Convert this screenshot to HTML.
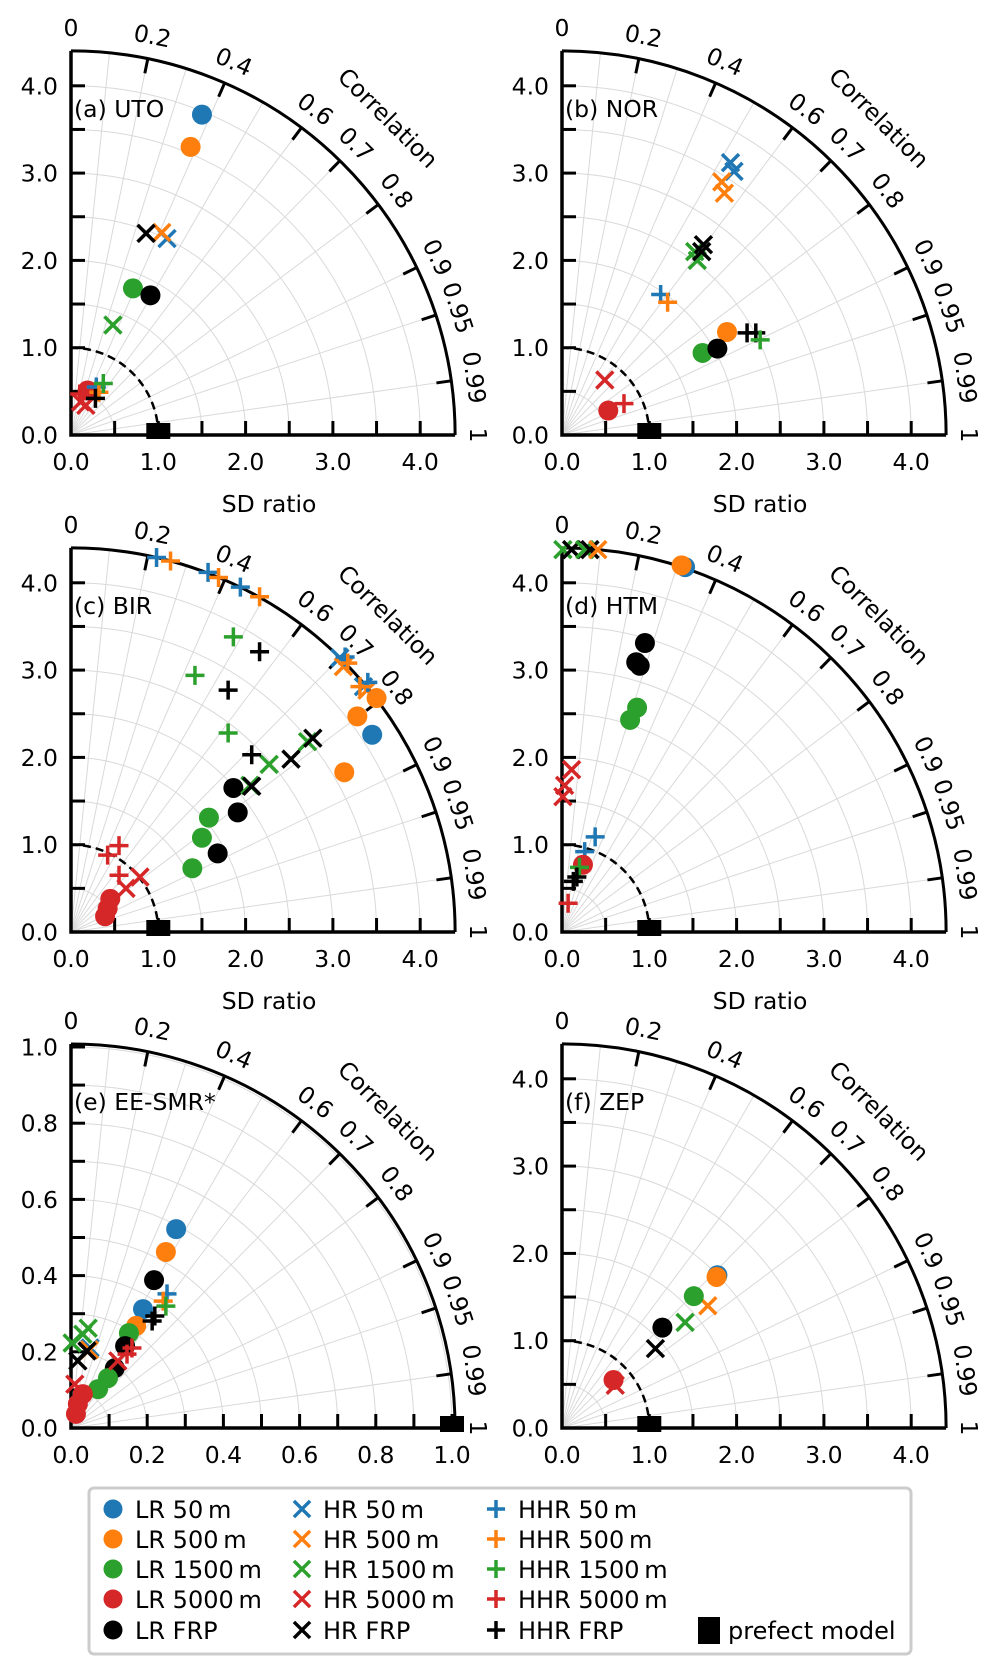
<!DOCTYPE html>
<html><head><meta charset="utf-8"><style>
html,body{margin:0;padding:0;background:#fff}
svg{display:block}
text{font-family:"DejaVu Sans","Liberation Sans",sans-serif;fill:#000}
</style></head><body>
<svg id="fig" xmlns="http://www.w3.org/2000/svg" width="997" height="1674" viewBox="0 0 997 1674"></svg>
<script>
// series: 0 LR50,1 LR500,2 LR1500,3 LR5000,4 LRFRP,5 HR50,6 HR500,7 HR1500,8 HR5000,9 HRFRP,10 HHR50,11 HHR500,12 HHR1500,13 HHR5000,14 HHRFRP
const seriesNames=["LR 50\u2009m","LR 500\u2009m","LR 1500\u2009m","LR 5000\u2009m","LR FRP","HR 50\u2009m","HR 500\u2009m","HR 1500\u2009m","HR 5000\u2009m","HR FRP","HHR 50\u2009m","HHR 500\u2009m","HHR 1500\u2009m","HHR 5000\u2009m","HHR FRP"];
const corrTicks=[0,0.2,0.4,0.6,0.7,0.8,0.9,0.95,0.99,1];
const corrGrid=[0.1,0.2,0.3,0.4,0.5,0.6,0.7,0.8,0.9,0.95,0.99];

const sA=[0,1,2,4,3,5,6,9,7,8,8,10,11,12,14,13];
const xA=[1.50,1.37,0.71,0.91,0.19,1.10,1.04,0.86,0.48,0.11,0.17,0.29,0.32,0.37,0.28,0.10];
const yA=[3.67,3.30,1.68,1.60,0.51,2.25,2.32,2.31,1.26,0.38,0.34,0.55,0.49,0.59,0.42,0.47];

const sB=[5,5,6,6,7,7,9,9,10,11,1,2,4,14,14,12,8,13,3];
const xB=[1.93,1.97,1.83,1.86,1.52,1.55,1.62,1.60,1.13,1.21,1.89,1.61,1.78,2.12,2.22,2.27,0.49,0.71,0.53];
const yB=[3.12,3.02,2.90,2.77,2.10,2.00,2.18,2.10,1.61,1.52,1.18,0.94,0.99,1.17,1.17,1.09,0.63,0.36,0.28];

const sC=[1,1,1,0,4,4,4,2,2,2,3,3,3,5,5,6,6,7,7,7,9,9,9,8,8,10,10,10,10,10,11,11,11,11,11,12,12,12,14,14,14,13,13,13];
const xC=[3.13,3.28,3.50,3.45,1.86,1.91,1.68,1.58,1.50,1.39,0.45,0.42,0.39,3.08,3.35,3.12,3.39,2.27,2.71,2.05,2.52,2.77,2.07,0.79,0.63,0.98,1.57,1.94,3.14,3.40,1.14,1.69,2.16,3.17,3.31,1.86,1.42,1.80,2.16,1.80,2.07,0.42,0.55,0.55];
const yC=[1.83,2.47,2.68,2.26,1.65,1.37,0.90,1.31,1.08,0.73,0.38,0.27,0.18,3.14,2.81,3.04,2.77,1.92,2.18,1.68,1.98,2.22,1.67,0.63,0.50,4.29,4.12,3.95,3.15,2.86,4.25,4.06,3.84,3.08,2.81,3.38,2.94,2.28,3.21,2.77,2.03,0.88,0.99,0.65];

const sD=[7,9,7,9,6,0,1,4,4,4,2,2,8,8,8,10,10,3,12,14,14,13];
const xD=[0.01,0.11,0.26,0.32,0.41,1.41,1.37,0.95,0.85,0.89,0.86,0.78,0.11,0.03,0.01,0.38,0.26,0.24,0.20,0.17,0.13,0.07];
const yD=[4.38,4.38,4.38,4.38,4.38,4.18,4.20,3.31,3.09,3.05,2.57,2.43,1.86,1.68,1.55,1.09,0.92,0.77,0.74,0.63,0.58,0.33];

const sE=[0,1,4,0,1,2,4,4,2,2,3,3,3,10,11,12,14,14,13,13,8,8,7,7,5,6,9,9,7];
const xE=[0.276,0.249,0.218,0.189,0.171,0.152,0.142,0.115,0.097,0.071,0.031,0.018,0.013,0.252,0.242,0.249,0.220,0.213,0.160,0.147,0.123,0.010,0.045,0.031,0.050,0.048,0.042,0.018,0.003];
const yE=[0.522,0.462,0.388,0.312,0.268,0.249,0.215,0.157,0.131,0.102,0.089,0.063,0.037,0.352,0.333,0.320,0.294,0.281,0.210,0.194,0.176,0.115,0.262,0.246,0.210,0.205,0.202,0.176,0.223];

const sF=[0,1,6,2,7,4,9,3,8];
const xF=[1.78,1.77,1.67,1.51,1.41,1.15,1.07,0.59,0.61];
const yF=[1.75,1.73,1.40,1.51,1.21,1.15,0.91,0.55,0.49];

const colors=["#1f77b4","#ff7f0e","#2ca02c","#d62728","#000000"];
const NS="http://www.w3.org/2000/svg";
const svg=document.getElementById('fig');
const FS=23.5;
function el(tag,attrs,parent){const e=document.createElementNS(NS,tag);for(const k in attrs)e.setAttribute(k,attrs[k]);(parent||svg).appendChild(e);return e;}

function marker(g,s,px,py,size){
  const c=colors[s%5];const kind=Math.floor(s/5);let m;
  if(kind===0){m=el('circle',{cx:px,cy:py,r:size,fill:c},g);}
  else if(kind===1){const d=size*0.85;m=el('path',{d:`M${px-d},${py-d}L${px+d},${py+d}M${px-d},${py+d}L${px+d},${py-d}`,stroke:c,'stroke-width':3.5,fill:'none'},g);}
  else {const d=size*0.95;m=el('path',{d:`M${px-d},${py}L${px+d},${py}M${px},${py-d}L${px},${py+d}`,stroke:c,'stroke-width':3.5,fill:'none'},g);}
  return m;
}

function panel(cfg){
  const {ox,oy,unit,rmax,minor,major,fmt,title,name,series,xs,ys}=cfg;
  const R=rmax*unit;
  const g=el('g',{});
  
  
  const X=v=>ox+v*unit, Y=v=>oy-v*unit;
  for(let r=minor;r<rmax-1e-6;r+=minor){
    const rr=r*unit;
    const a=el('path',{d:`M${ox+rr},${oy}A${rr},${rr} 0 0 0 ${ox},${oy-rr}`,fill:'none',stroke:'#d9d9d9','stroke-width':1},g);
    
    
  }
  corrGrid.forEach(c=>{
    const t=Math.acos(c);
    const l=el('line',{x1:ox,y1:oy,x2:ox+R*Math.cos(t),y2:oy-R*Math.sin(t),stroke:'#d9d9d9','stroke-width':1},g);
    
    
  });
  if(cfg.dashed){
    const ru=1*unit;
    const da=el('path',{d:`M${ox+ru},${oy}A${ru},${ru} 0 0 0 ${ox},${oy-ru}`,fill:'none',stroke:'#000','stroke-width':2.5,'stroke-dasharray':'8,5'},g);
    
    
  }
  const oa=el('path',{d:`M${ox+R},${oy}A${R},${R} 0 0 0 ${ox},${oy-R}`,fill:'none',stroke:'#000','stroke-width':3},g);
  
  
  const ax=el('path',{d:`M${ox},${oy-R}L${ox},${oy}L${ox+R},${oy}`,fill:'none',stroke:'#000','stroke-width':3.5},g);
  
  
  const nt=Math.round(rmax/minor+1e-6);
  for(let i=1;i<=nt;i++){
    const v=i*minor; if(v>rmax+1e-6)break;
    el('line',{x1:X(v),y1:oy,x2:X(v),y2:oy-14,stroke:'#000','stroke-width':3},g);
    el('line',{x1:ox,y1:Y(v),x2:ox+14,y2:Y(v),stroke:'#000','stroke-width':3},g);
  }
  major.forEach(v=>{
    const tx=el('text',{x:X(v),y:oy+35,'text-anchor':'middle','font-size':FS},g);
    tx.textContent=fmt(v);
    
    
    const ty=el('text',{x:ox-13,y:Y(v)+8.5,'text-anchor':'end','font-size':FS},g);
    ty.textContent=fmt(v);
    
    
  });
  corrTicks.forEach(c=>{
    const t=Math.acos(c);const cs=Math.cos(t),sn=Math.sin(t);
    if(c>0&&c<1) el('line',{x1:ox+R*cs,y1:oy-R*sn,x2:ox+(R-15)*cs,y2:oy-(R-15)*sn,stroke:'#000','stroke-width':3},g);
    const lr=R+23;const lx=ox+lr*cs,ly=oy-lr*sn;
    const rot=90-t*180/Math.PI;
    const tl=el('text',{x:lx,y:ly,'text-anchor':'middle','dominant-baseline':'central','font-size':FS,transform:`rotate(${rot} ${lx} ${ly})`},g);
    tl.textContent=String(c);
    
    
  });
  const cr=R+64, cx=ox+cr*Math.SQRT1_2, cy=oy-cr*Math.SQRT1_2;
  const ct=el('text',{x:cx,y:cy,'text-anchor':'middle','dominant-baseline':'central','font-size':FS,transform:`rotate(45 ${cx} ${cy})`},g);
  ct.textContent='Correlation';
  
  
  if(cfg.xlabel){
    const xl=el('text',{x:ox+R/2+6,y:oy+77,'text-anchor':'middle','font-size':FS},g);
    xl.textContent='SD ratio';
    
    
  }
  const tt=el('text',{x:ox+3,y:oy-318,'font-size':FS},g);
  tt.textContent=title;
  
  
  for(let i=0;i<series.length;i++){
    const m=marker(g,series[i],X(xs[i]),Y(ys[i]),10);
    
    
  }
  const pm=el('rect',{x:X(1)-12,y:oy-12,width:24,height:16,fill:'#000'},g);
  
  
}
const fmt1=v=>v.toFixed(1);
const ticks4=[0,1,2,3,4];
const ticksE=[0,0.2,0.4,0.6,0.8,1.0];
panel({ox:71,oy:435,unit:87.3,rmax:4.4,minor:0.5,major:ticks4,fmt:fmt1,title:'(a) UTO',name:'panel-a-uto',series:sA,xs:xA,ys:yA,xlabel:true,dashed:true});
panel({ox:562,oy:435,unit:87.3,rmax:4.4,minor:0.5,major:ticks4,fmt:fmt1,title:'(b) NOR',name:'panel-b-nor',series:sB,xs:xB,ys:yB,xlabel:true,dashed:true});
panel({ox:71,oy:932,unit:87.3,rmax:4.4,minor:0.5,major:ticks4,fmt:fmt1,title:'(c) BIR',name:'panel-c-bir',series:sC,xs:xC,ys:yC,xlabel:true,dashed:true});
panel({ox:562,oy:932,unit:87.3,rmax:4.4,minor:0.5,major:ticks4,fmt:fmt1,title:'(d) HTM',name:'panel-d-htm',series:sD,xs:xD,ys:yD,xlabel:true,dashed:true});
panel({ox:71,oy:1428,unit:381,rmax:1.008,minor:0.1,major:ticksE,fmt:fmt1,title:'(e) EE-SMR*',name:'panel-e-ee-smr',series:sE,xs:xE,ys:yE,xlabel:false,dashed:false});
panel({ox:562,oy:1428,unit:87.3,rmax:4.4,minor:0.5,major:ticks4,fmt:fmt1,title:'(f) ZEP',name:'panel-f-zep',series:sF,xs:xF,ys:yF,xlabel:false,dashed:true});

const lg=el('g',{});


el('rect',{x:89,y:1488,width:822,height:166,rx:5,fill:'#fff',stroke:'#cccccc','stroke-width':3},lg);
const colMX=[113,302,496],colTX=[135,323,518],rowY=[1509,1539,1569,1599,1630];
for(let s=0;s<15;s++){
  const col=Math.floor(s/5),row=s%5;
  const m=marker(lg,s,colMX[col],rowY[row],9.5);
  
  
  const t=el('text',{x:colTX[col],y:rowY[row]+9,'font-size':24},lg);
  t.textContent=seriesNames[s];
  
  
}
const pr=el('rect',{x:698,y:1617,width:22,height:27,fill:'#000'},lg);


const pt=el('text',{x:728,y:1639,'font-size':24},lg);
pt.textContent='prefect model';


</script>
</body></html>
